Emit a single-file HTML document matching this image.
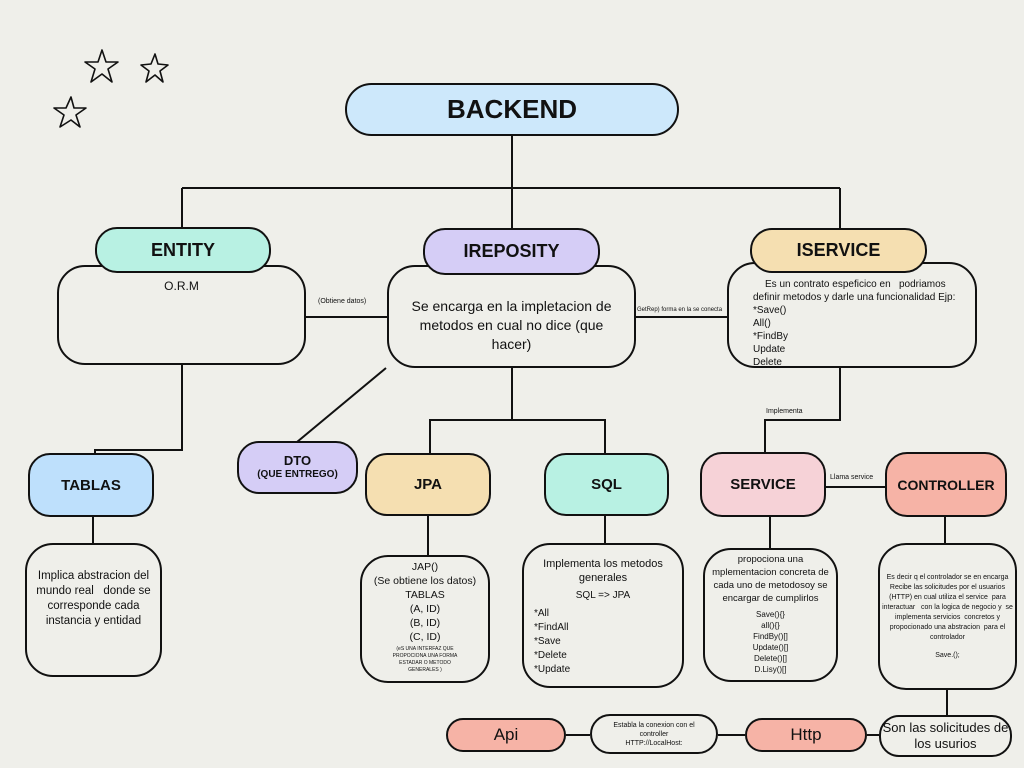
<!DOCTYPE html>
<html><head><meta charset="utf-8"><style>
body{margin:0;width:1024px;height:768px;background:#efefea;position:relative;overflow:hidden;font-family:"Liberation Sans",sans-serif;color:#111}
.b{position:absolute;border:2px solid #111;box-sizing:border-box;display:flex;flex-direction:column;align-items:center;justify-content:center;text-align:center}
.p{border-radius:22px;font-weight:bold}
.r{border-radius:28px;background:#efefea}
.t{position:absolute;white-space:nowrap}
</style></head><body>
<svg width="1024" height="768" style="position:absolute;left:0;top:0" fill="none" stroke="#111" stroke-width="2">
<path d="M512 136V188M182 188H840M182 188V228M512 188V228M840 188V228"/>
<path d="M306 317H387M636 317H727"/>
<path d="M182 365V450H95V453M93 517V543"/>
<path d="M297 442L386 368"/>
<path d="M512 368V420H430V453M430 420H605V453M428 516V555M605 516V543"/>
<path d="M840 368V420H765V453M826 487H885M770 517V548M945 517V543M947 690V715"/>
<path d="M566 735H590M718 735H745M867 735H879"/>
<g stroke-width="1.6" stroke-linejoin="round">
<path d="M102 50L106 62L118 62L108 69L112 82L102 74L91 82L95 69L85 62L98 62Z"/>
<path d="M155 54L158 64L168 65L160 71L163 82L155 75L146 82L149 71L141 65L151 64Z"/>
<path d="M71 97L74 108L86 108L76 115L80 127L71 120L60 127L64 115L54 108L66 108Z"/>
</g>
</svg>
<div class="b p" style="left:345px;top:83px;width:334px;height:53px;background:#cde8fb;border-radius:27px;font-size:26px">BACKEND</div>
<div class="b r" style="left:57px;top:265px;width:249px;height:100px;justify-content:flex-start;padding-top:12px;font-size:12px">O.R.M</div>
<div class="b p" style="left:95px;top:227px;width:176px;height:46px;background:#b8f1e3;font-size:18px">ENTITY</div>
<div class="b r" style="left:387px;top:265px;width:249px;height:103px;font-size:14px;line-height:19px;padding:18px 14px 0">Se encarga en la impletacion de metodos en cual no dice (que hacer)</div>
<div class="b p" style="left:423px;top:228px;width:177px;height:47px;background:#d5cdf6;font-size:18px">IREPOSITY</div>
<div class="b r" style="left:727px;top:262px;width:250px;height:106px;font-size:10px;align-items:flex-start;justify-content:flex-start;padding:14px 0 0 24px;line-height:13px;text-align:left">
<div style="margin-left:12px">Es un contrato espeficico en &nbsp; podriamos</div><div>definir metodos y darle una funcionalidad Ejp:</div><div>*Save()</div><div>All()</div><div>*FindBy</div><div>Update</div><div>Delete</div></div>
<div class="b p" style="left:750px;top:228px;width:177px;height:45px;background:#f5dfb1;font-size:18px">ISERVICE</div>
<div class="t" style="left:318px;top:298px;font-size:7px">(Obtiene datos)</div>
<div class="t" style="left:637px;top:307px;font-size:6px">GetRep) forma en la se conecta</div>
<div class="t" style="left:766px;top:408px;font-size:7px">Implementa</div>
<div class="t" style="left:830px;top:474px;font-size:7px">Llama service</div>
<div class="b p" style="left:28px;top:453px;width:126px;height:64px;background:#bee0fc;font-size:15px">TABLAS</div>
<div class="b r" style="left:25px;top:543px;width:137px;height:134px;font-size:11.5px;line-height:15px;justify-content:flex-start;padding-top:24px">Implica abstracion del mundo real &nbsp; donde se corresponde cada instancia y entidad</div>
<div class="b p" style="left:237px;top:441px;width:121px;height:53px;background:#d5cdf6;font-size:13px;line-height:14px">DTO<br><span style="font-size:10px">(QUE ENTREGO)</span></div>
<div class="b p" style="left:365px;top:453px;width:126px;height:63px;background:#f5dfb1;font-size:15px">JPA</div>
<div class="b p" style="left:544px;top:453px;width:125px;height:63px;background:#b8f1e3;font-size:15px">SQL</div>
<div class="b p" style="left:700px;top:452px;width:126px;height:65px;background:#f6d2d7;font-size:15px">SERVICE</div>
<div class="b p" style="left:885px;top:452px;width:122px;height:65px;background:#f6b3a6;font-size:14px">CONTROLLER</div>
<div class="b r" style="left:360px;top:555px;width:130px;height:128px;font-size:10.5px;line-height:14px;justify-content:flex-start;padding-top:3px">JAP()<br>(Se obtiene los datos)<br>TABLAS<br>(A, ID)<br>(B, ID)<br>(C, ID)<div style="font-size:5px;line-height:7px;margin-top:2px">(eS UNA INTERFAZ QUE<br>PROPOCIONA UNA FORMA<br>ESTADAR O METODO<br>GENERALES )</div></div>
<div class="b r" style="left:522px;top:543px;width:162px;height:145px;font-size:11px;line-height:14px;justify-content:flex-start;padding-top:12px">Implementa los metodos<br>generales<div style="margin-top:4px;font-size:10px">SQL =&gt; JPA</div><div style="align-self:flex-start;text-align:left;margin-left:10px;margin-top:4px;font-size:10px">*All<br>*FindAll<br>*Save<br>*Delete<br>*Update</div></div>
<div class="b r" style="left:703px;top:548px;width:135px;height:134px;font-size:9.5px;line-height:13px;justify-content:flex-start;padding-top:3px">propociona una<br>mplementacion concreta de<br>cada uno de metodosoy se<br>encargar de cumplirlos<div style="font-size:8px;line-height:11px;margin-top:4px">Save(){}<br>all(){}<br>FindBy()[]<br>Update()[]<br>Delete()[]<br>D.Lisy()[]</div></div>
<div class="b r" style="left:878px;top:543px;width:139px;height:147px;font-size:7px;line-height:10px">Es decir q el controlador se en encarga Recibe las solicitudes por el usuarios (HTTP) en cual utiliza el service &nbsp;para interactuar &nbsp; con la logica de negocio y &nbsp;se implementa servicios &nbsp;concretos y propocionado una abstracion &nbsp;para el controlador<div style="margin-top:8px">Save.();</div></div>
<div class="b r" style="left:879px;top:715px;width:133px;height:42px;font-size:13px;line-height:16px;border-radius:20px">Son las solicitudes de los usurios</div>
<div class="b" style="left:446px;top:718px;width:120px;height:34px;border-radius:17px;background:#f6b3a6;font-size:17px">Api</div>
<div class="b" style="left:590px;top:714px;width:128px;height:40px;border-radius:20px;font-size:7px;line-height:9px">Establa la conexion con el<br>controller<br>HTTP://LocalHost:</div>
<div class="b" style="left:745px;top:718px;width:122px;height:34px;border-radius:17px;background:#f6b3a6;font-size:17px">Http</div>
</body></html>
